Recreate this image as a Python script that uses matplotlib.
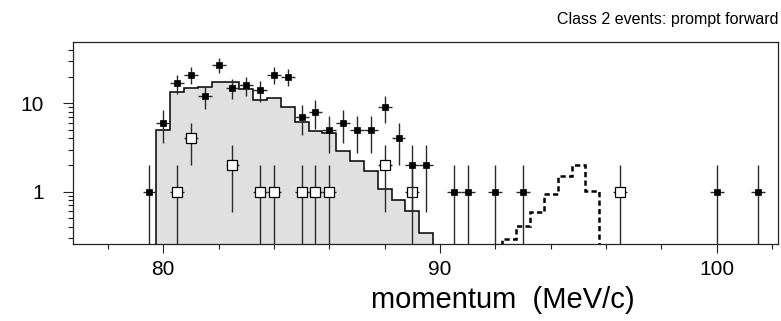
import numpy as np
import matplotlib
matplotlib.use("Agg")
import matplotlib.pyplot as plt
from matplotlib.ticker import LogLocator, FixedLocator, MultipleLocator, NullFormatter, FixedFormatter

plt.rcParams['font.family'] = ['Liberation Sans', 'DejaVu Sans']

# Measured events (filled markers): momentum bin centre and counts
data_p = [79.5, 80.0, 80.5, 81.0, 81.5, 82.0, 82.5, 83.0, 83.5, 84.0, 84.5,
          85.0, 85.5, 86.0, 86.5, 87.0, 87.5, 88.0, 88.5, 89.0, 89.5,
          90.5, 91.0, 92.0, 93.0, 100.0, 101.5]
data_n = [1, 6, 17, 21, 12, 27, 15, 16, 14, 21, 20,
          7, 8, 5, 6, 5, 5, 9, 4, 2, 2,
          1, 1, 1, 1, 1, 1]

# Second event sample (open squares)
open_p = [80.5, 81.0, 82.5, 83.5, 84.0, 85.0, 85.5, 86.0, 88.0, 89.0, 96.5]
open_n = [1, 4, 2, 1, 1, 1, 1, 1, 2, 1, 1]

# Simulated spectrum (grey filled histogram)
sim_edges = [79.75, 80.25, 80.75, 81.25, 81.75, 82.25, 82.75, 83.25, 83.75,
             84.25, 84.75, 85.25, 85.75, 86.25, 86.75, 87.25, 87.75, 88.25,
             88.75, 89.25, 89.75]
sim_vals = [5.0, 13.4, 15.0, 15.3, 17.4, 17.6, 14.5, 10.8, 11.6, 9.1,
            6.2, 4.9, 4.56, 2.9, 2.2, 1.73, 1.07, 0.81, 0.6, 0.34]

# Signal shape (dashed histogram)
sig_edges = [92.25, 92.75, 93.25, 93.75, 94.25, 94.75, 95.25, 95.75]
sig_vals = [0.29, 0.41, 0.59, 0.95, 1.49, 2.0, 1.03]

title_text = "Class 2 events: prompt forward"
x_label = "momentum  (MeV/c)"
x_major = [80, 90, 100]
y_major = [1, 10]

half_bin = 0.25
floor = 1e-3

fig = plt.figure(figsize=(7.81, 3.21), dpi=100)
ax = fig.add_axes([0.0935, 0.2399, 0.9027, 0.6293])

ax.set_yscale('log')
ax.set_xlim(76.74, 102.21)
ax.set_ylim(0.256, 49.4)

ax.stairs(sim_vals, sim_edges, baseline=floor, fill=True,
          facecolor='#e0e0e0', edgecolor='none', zorder=1)
ax.stairs(sim_vals, sim_edges, baseline=floor, fill=False,
          color='black', linewidth=1.1, zorder=2)
ax.stairs(sig_vals, sig_edges, baseline=floor, fill=False,
          color='black', linewidth=1.8, linestyle=(0, (2.1, 1.3)), zorder=2)


def poisson_err(counts):
    c = np.asarray(counts, dtype=float)
    e = np.sqrt(c)
    lo = np.minimum(e, c - floor)
    return np.vstack([lo, e])


ax.errorbar(open_p, open_n, yerr=poisson_err(open_n), xerr=half_bin,
            fmt='s', ms=7.5, mfc='white', mec='black', mew=0.9,
            ecolor='#2a2a2a', elinewidth=1.0, capsize=0, zorder=3)
ax.errorbar(data_p, data_n, yerr=poisson_err(data_n), xerr=half_bin,
            fmt='s', ms=3.8, mfc='black', mec='black', mew=0.5,
            ecolor='#2a2a2a', elinewidth=1.0, capsize=0, zorder=4)

# Axis ticks
ax.xaxis.set_major_locator(FixedLocator(x_major))
ax.xaxis.set_minor_locator(MultipleLocator(2))
ax.xaxis.set_minor_formatter(NullFormatter())
ax.yaxis.set_major_locator(FixedLocator(y_major))
ax.yaxis.set_major_formatter(FixedFormatter([str(v) for v in y_major]))
ax.yaxis.set_minor_locator(LogLocator(base=10, subs=np.arange(2, 10)))
ax.yaxis.set_minor_formatter(NullFormatter())

ax.tick_params(axis='x', which='major', direction='out', length=6.5, width=0.8,
               color='#222222', labelsize=15, pad=5)
ax.tick_params(axis='x', which='minor', direction='out', length=3.6, width=0.8,
               color='#222222')
ax.tick_params(axis='y', which='major', direction='out', length=7, width=0.8,
               color='#222222', labelsize=15, pad=14)
ax.tick_params(axis='y', which='minor', direction='out', length=3.6, width=0.8,
               color='#222222')
ax.tick_params(top=False, right=False)

for s in ax.spines.values():
    s.set_linewidth(0.9)
    s.set_color('#222222')

ax.set_xlabel(x_label, fontsize=21)
ax.xaxis.set_label_coords(0.609, -0.277)
ax.xaxis.label.set_va('center')

fig.text(0.997, 0.938, title_text, ha='right', va='center', fontsize=11.5)

fig.savefig('out.png', dpi=100)
